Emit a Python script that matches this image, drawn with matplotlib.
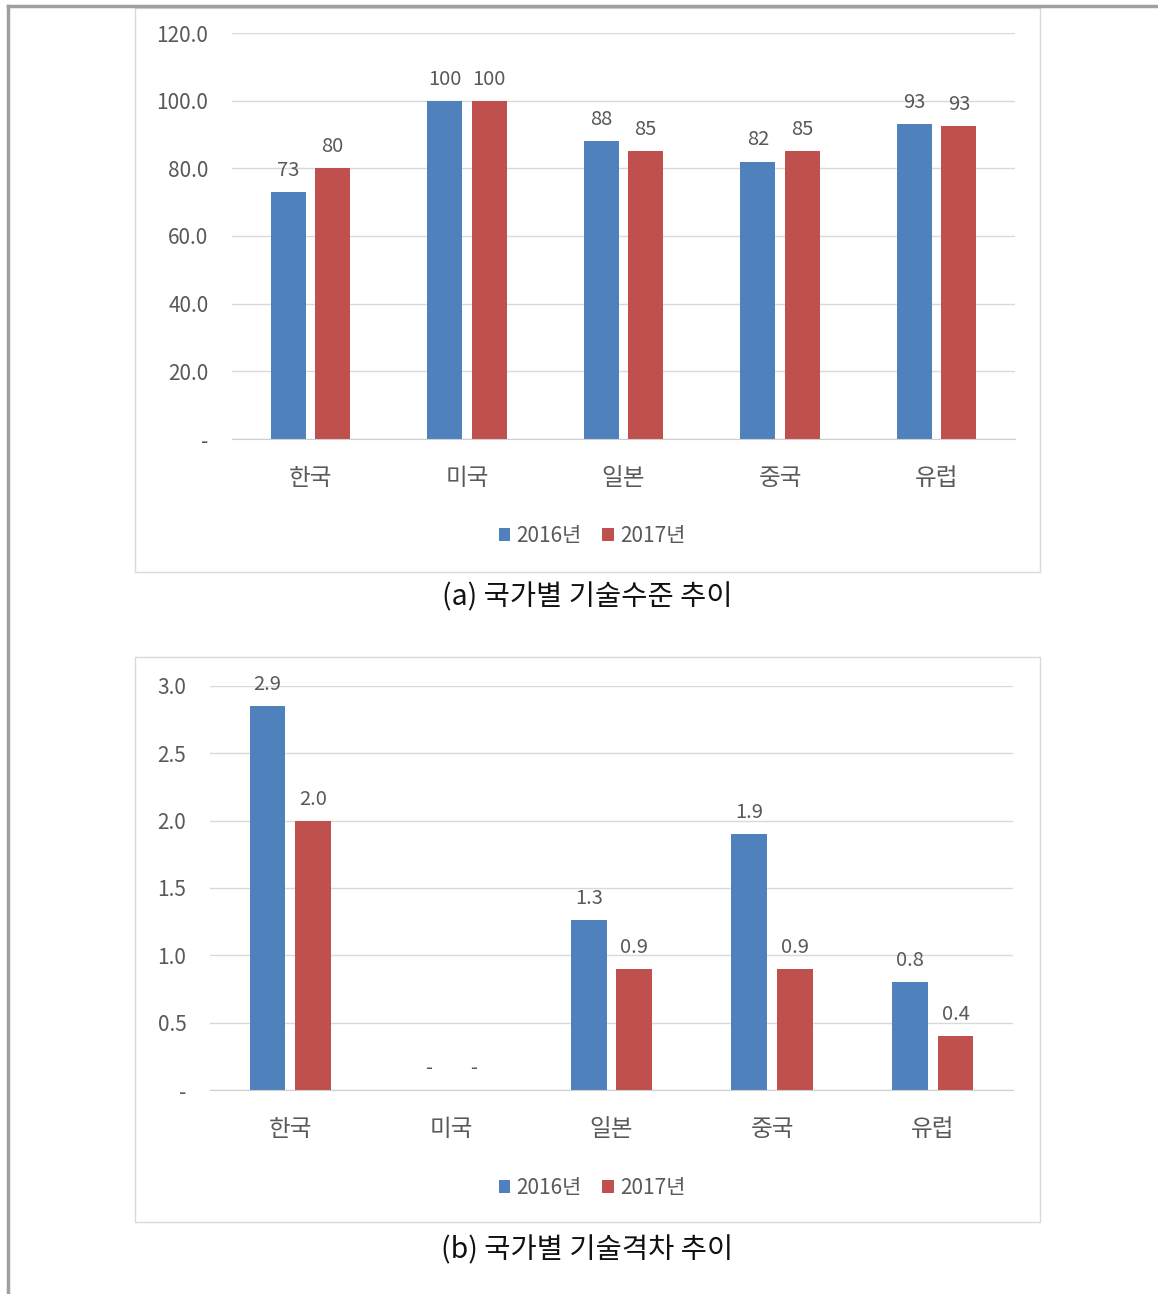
import numpy as np
import matplotlib
matplotlib.use('Agg')
import matplotlib.pyplot as plt
from matplotlib.patches import Rectangle
from matplotlib.lines import Line2D

plt.rcParams['font.family'] = ['Noto Sans CJK KR', 'DejaVu Sans']

countries = ['한국', '미국', '일본', '중국', '유럽']
series_names = ['2016년', '2017년']
level_2016 = [73, 100, 88, 82, 93]
level_2017 = [80, 100, 85, 85, 92.6]
gap_2016 = [2.85, 0, 1.26, 1.9, 0.8]
gap_2017 = [2.0, 0, 0.9, 0.9, 0.4]
caption_a = '(a) 국가별 기술수준 추이'
caption_b = '(b) 국가별 기술격차 추이'

blue = '#4F81BD'
red = '#C0504D'
txt = '#595959'
grid_c = '#D9D9D9'

W, H = 1158, 1294
fig = plt.figure(figsize=(W / 100, H / 100), dpi=100)


def fx(px):
    return px / W


def fy(py):
    return 1 - py / H


def draw(ax, v1, v2, ymax, step, lab_fmt, tick_fmt, legend_y, legend_x):
    x = np.arange(len(countries))
    w = 0.224
    off = 0.142
    b1 = ax.bar(x - off, v1, w, color=blue, label=series_names[0], zorder=3)
    b2 = ax.bar(x + off, v2, w, color=red, label=series_names[1], zorder=3)
    for bars in (b1, b2):
        ax.bar_label(bars, labels=['-' if v == 0 else lab_fmt.format(v) for v in bars.datavalues],
                     padding=8, color=txt, fontsize=14.5)
    ax.set_xlim(-0.5, len(countries) - 0.5)
    ax.set_ylim(0, ymax)
    yt = np.arange(0, ymax + step / 2, step)
    ax.set_yticks(yt)
    ax.set_yticklabels(['-' if t == 0 else tick_fmt.format(t) for t in yt], color=txt, fontsize=15)
    ax.set_xticks(x)
    ax.set_xticklabels(countries, color=txt, fontsize=17)
    ax.tick_params(axis='y', length=0, pad=17)
    ax.tick_params(axis='x', length=0, pad=20)
    ax.grid(axis='y', color=grid_c, linewidth=1, zorder=0)
    for s in ['top', 'right', 'left']:
        ax.spines[s].set_visible(False)
    ax.spines['bottom'].set_color('#CFCFCF')
    ax.spines['bottom'].set_zorder(4)
    ax.legend(loc='center', bbox_to_anchor=(fx(legend_x), fy(legend_y)),
              bbox_transform=fig.transFigure, ncol=2, frameon=False,
              handlelength=0.55, handleheight=0.55, handletextpad=0.3,
              columnspacing=1.0, labelcolor=txt, prop={'size': 15})


# chart boxes
fig.add_artist(Rectangle((fx(135), fy(572)), fx(1040) - fx(135), fy(8) - fy(572),
                         transform=fig.transFigure, fill=False, edgecolor='#D9D9D9', lw=1))
fig.add_artist(Rectangle((fx(135), fy(1222)), fx(1040) - fx(135), fy(657) - fy(1222),
                         transform=fig.transFigure, fill=False, edgecolor='#D9D9D9', lw=1))

ax1 = fig.add_axes([fx(232), fy(439), fx(1015) - fx(232), fy(33) - fy(439)])
draw(ax1, level_2016, level_2017, 120, 20, '{:.0f}', '{:.1f}', 536, 592)

ax2 = fig.add_axes([fx(210), fy(1090), fx(1013) - fx(210), fy(686) - fy(1090)])
draw(ax2, gap_2016, gap_2017, 3.0, 0.5, '{:.1f}', '{:.1f}', 1188, 592)

fig.text(fx(587), fy(597), caption_a, ha='center', va='center', fontsize=20.5, color='#111111')
fig.text(fx(587), fy(1250), caption_b, ha='center', va='center', fontsize=20.5, color='#111111')

# outer page frame
fig.add_artist(Line2D([fx(8), 1], [fy(6), fy(6)], transform=fig.transFigure, color='#A0A0A0', lw=2.5))
fig.add_artist(Line2D([fx(8), fx(8)], [fy(6), 0], transform=fig.transFigure, color='#A0A0A0', lw=2.5))

fig.savefig('out.png', dpi=100, facecolor='white')
